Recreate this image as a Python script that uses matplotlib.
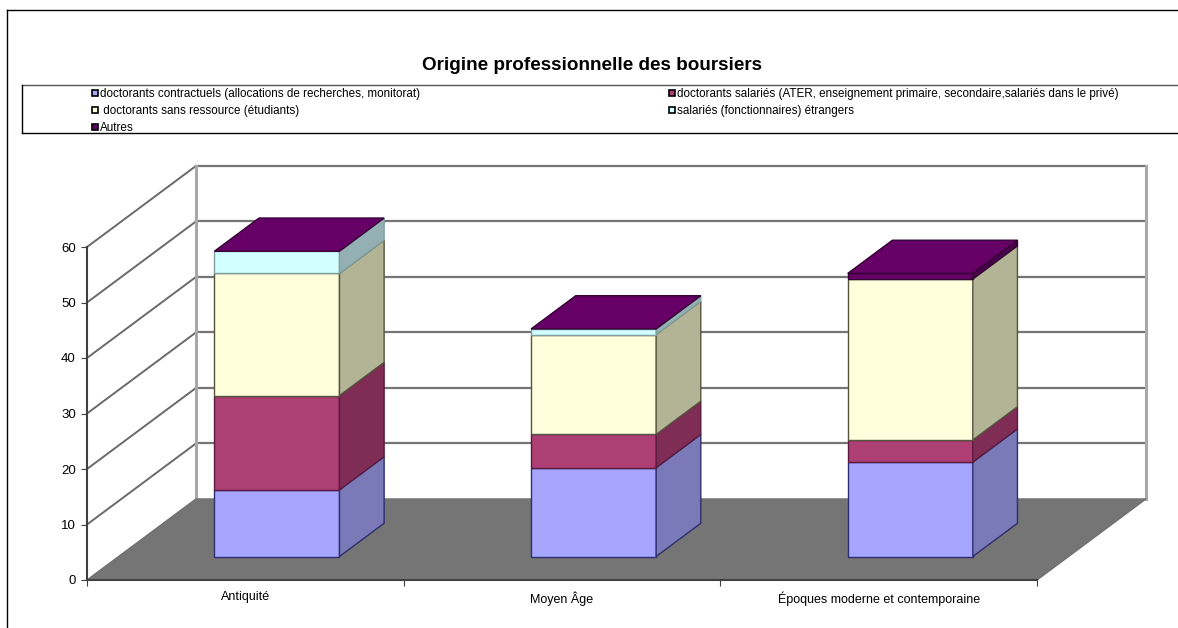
import matplotlib
matplotlib.use('Agg')
import matplotlib.pyplot as plt
from matplotlib.lines import Line2D
from matplotlib.patches import Polygon

plt.rcParams['font.family'] = ['Liberation Sans', 'DejaVu Sans']

# data
categories = ['Antiquité', 'Moyen Âge', 'Époques moderne et contemporaine']
contractuels = [12, 16, 17]
salaries = [17, 6, 4]
sans_ressource = [22, 18, 29]
etrangers = [4, 1, 0]
autres = [0, 0, 1]
yticks = [0, 10, 20, 30, 40, 50, 60]

series = [contractuels, salaries, sans_ressource, etrangers, autres]
names = ['doctorants contractuels (allocations de recherches, monitorat)',
         'doctorants salariés (ATER, enseignement primaire, secondaire,salariés dans le privé)',
         ' doctorants sans ressource (étudiants)',
         'salariés (fonctionnaires) étrangers',
         'Autres']
front_col = ['#a6a6ff', '#ad3f74', '#ffffdc', '#d2ffff', '#660066']
side_col = ['#7a7ab8', '#7f2d55', '#b3b396', '#94b0b4', '#4d004d']
edge_col = ['#2e2e70', '#5a1a40', '#55553f', '#7f9f9f', '#330033']

# oblique projection of the fake 3D box, in data units
DEPTH_X = 0.344
DEPTH_Y = 14.6
BAR_W = 0.395
BAR_D0 = 0.29
BAR_D1 = 0.70


def proj(x, v, d):
    return (x + d * DEPTH_X, v + d * DEPTH_Y)


W, H = 1178, 628
fig = plt.figure(figsize=(W / 100, H / 100), dpi=100, facecolor='white')
ax = fig.add_axes([87 / W, (H - 580) / H, 950 / W, 333 / H])
ax.set_xlim(0, 3)
ax.set_ylim(0, 60)
ax.patch.set_visible(False)

# back wall and side wall
for v in yticks[1:]:
    x0, y0 = proj(0, v, 1)
    x1, y1 = proj(3, v, 1)
    ax.plot([x0, x1], [y0, y1], color='#757575', lw=1.6, clip_on=False, zorder=1)
    x2, y2 = proj(0, v, 0)
    ax.plot([x2, x0], [y2, y0], color='#6a6a6a', lw=1.4, clip_on=False, zorder=1)
for xw in [0, 3]:
    x0, y0 = proj(xw, 0, 1)
    x1, y1 = proj(xw, 60, 1)
    ax.plot([x0, x1], [y0, y1], color='#a8a8a8', lw=2.2, clip_on=False, zorder=1)

# floor
floor = [proj(0, 0, 0), proj(0, 0, 1), proj(3, 0, 1), proj(3, 0, 0)]
ax.add_patch(Polygon(floor, closed=True, facecolor='#757575', edgecolor='#707070',
                     lw=1, clip_on=False, zorder=2))

# stacked boxes
for i in range(len(categories)):
    left = i + 0.5 - BAR_W / 2
    right = i + 0.5 + BAR_W / 2
    base = 0
    for s, vals in enumerate(series):
        top = base + vals[i]
        if vals[i] > 0:
            ax.add_patch(Polygon([proj(left, base, BAR_D0), proj(right, base, BAR_D0),
                                  proj(right, top, BAR_D0), proj(left, top, BAR_D0)],
                                 closed=True, facecolor=front_col[s], edgecolor=edge_col[s],
                                 lw=1, clip_on=False, zorder=3))
            ax.add_patch(Polygon([proj(right, base, BAR_D0), proj(right, base, BAR_D1),
                                  proj(right, top, BAR_D1), proj(right, top, BAR_D0)],
                                 closed=True, facecolor=side_col[s], edgecolor=edge_col[s],
                                 lw=1, clip_on=False, zorder=3))
        base = top
    ax.add_patch(Polygon([proj(left, base, BAR_D0), proj(right, base, BAR_D0),
                          proj(right, base, BAR_D1), proj(left, base, BAR_D1)],
                         closed=True, facecolor=front_col[-1], edgecolor=edge_col[-1],
                         lw=1, clip_on=False, zorder=4))

# axes
for side in ['top', 'right']:
    ax.spines[side].set_visible(False)
for side in ['left', 'bottom']:
    ax.spines[side].set_color('#404040')
    ax.spines[side].set_linewidth(1.5)
    ax.spines[side].set_zorder(5)
ax.set_yticks(yticks)
ax.set_xticks([0, 1, 2, 3])
ax.set_xticklabels([])
ax.set_xticks([0.5, 1.5, 2.5], categories, minor=True)
ax.tick_params(axis='x', which='minor', length=0, labelsize=9, pad=8)
ax.tick_params(axis='x', which='major', length=4, color='#404040')
ax.tick_params(axis='y', length=4, labelsize=9.5, pad=4, color='#404040')

fig.text(591.5 / W, 1 - 65.5 / H, 'Origine professionnelle des boursiers',
         fontsize=13.55, fontweight='bold', ha='center', va='center')

# frame around the picture and around the legend
fr = fig.transFigure
for xs, ys, c in [([7, W], [10, 10], 'black'), ([7, 7], [10, H], 'black'),
                  ([22, W], [85, 85], '#555555'), ([22, W], [133, 133], 'black'),
                  ([22, 22], [85, 133], 'black')]:
    fig.add_artist(Line2D([a / W for a in xs], [1 - b / H for b in ys],
                          color=c, lw=1, transform=fr))

# legend, filled column by column
order = [0, 2, 4, 1, 3]
handles = [Line2D([], [], ls='none', marker='s', markersize=4.5, markerfacecolor=front_col[k],
                  markeredgecolor='black', markeredgewidth=1.2) for k in order]
fig.legend(handles, [names[k] for k in order], ncol=2, frameon=False, fontsize=8.35,
           loc='upper left', bbox_to_anchor=(90 / W, 1 - 88.5 / H), borderpad=0, borderaxespad=0,
           handlelength=0.8, handletextpad=0.05, labelspacing=0.43, columnspacing=21.35)

fig.savefig('out.png', dpi=100)
